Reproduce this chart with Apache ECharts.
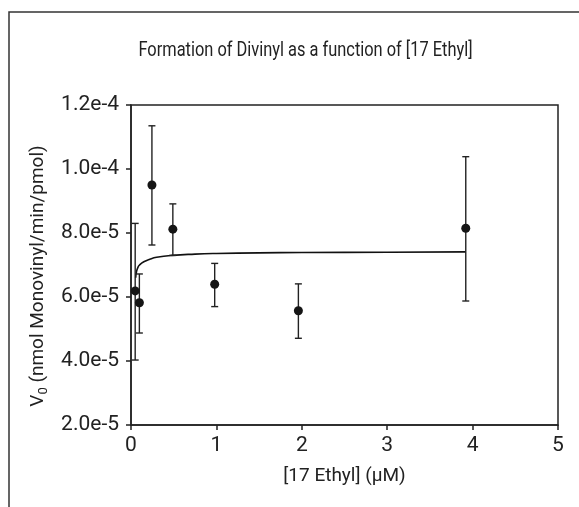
<!DOCTYPE html>
<html>
<head>
<meta charset="utf-8">
<script src="https://cdn.jsdelivr.net/npm/echarts@6/dist/echarts.min.js"></script>
<style>
html,body{margin:0;padding:0;background:#fff;}
#chart{width:579px;height:507px;}
</style>
</head>
<body>
<div id="chart"></div>
<script>
// Data
const concentration = [0.049, 0.098, 0.245, 0.49, 0.98, 1.96, 3.92];
const rate = [6.19e-5, 5.82e-5, 9.5e-5, 8.12e-5, 6.40e-5, 5.57e-5, 8.15e-5];
const rateHigh = [8.30e-5, 6.72e-5, 1.135e-4, 8.91e-5, 7.05e-5, 6.41e-5, 1.0385e-4];
const rateLow = [4.03e-5, 4.875e-5, 7.625e-5, 7.30e-5, 5.70e-5, 4.71e-5, 5.875e-5];
// Fitted curve, points
const fitX = [0.055, 0.065, 0.08, 0.1, 0.15, 0.22, 0.3, 0.48, 0.75, 1.0, 1.5, 2.0, 3.0, 3.92];
const fitY = [6.6e-5, 6.8e-5, 6.92e-5, 7.0e-5, 7.1e-5, 7.18e-5, 7.24e-5, 7.3e-5, 7.34e-5, 7.36e-5, 7.38e-5, 7.39e-5, 7.4e-5, 7.41e-5];

const titleText = 'Formation of Divinyl as a function of [17 Ethyl]';
const xName = '[17 Ethyl] (µM)';

const FONT = 'Roboto, "Liberation Sans", sans-serif';
const INK = '#222';

const pts = concentration.map((x, i) => [x, rate[i]]);
const errs = concentration.map((x, i) => [x, rateLow[i], rateHigh[i]]);
const fit = fitX.map((x, i) => [x, fitY[i]]);

const chart = echarts.init(document.getElementById('chart'), null, {renderer: 'canvas'});
chart.setOption({
  animation: false,
  backgroundColor: '#fff',
  graphic: [
    {
      type: 'rect', x: 0, y: 0, shape: {x: 9, y: 12, width: 700, height: 700},
      style: {fill: 'none', stroke: '#333', lineWidth: 1.5}, silent: true
    },
    {
      type: 'text', x: 305.5, y: 51, scaleX: 0.82, silent: true,
      style: {
        text: titleText, fill: INK, align: 'center', verticalAlign: 'middle',
        font: '20px ' + FONT
      }
    }
  ],
  grid: {left: 131, top: 105, right: 21, bottom: 82, show: true, borderColor: INK, borderWidth: 1.5, backgroundColor: 'transparent'},
  xAxis: {
    type: 'value', min: 0, max: 5, interval: 1,
    name: xName, nameLocation: 'middle', nameGap: 42,
    nameTextStyle: {fontFamily: FONT, fontSize: 19, color: INK},
    axisLine: {lineStyle: {color: INK, width: 1.5}},
    axisTick: {length: 5, lineStyle: {color: INK, width: 1.5}},
    axisLabel: {margin: 10, fontFamily: FONT, fontSize: 21, color: INK},
    splitLine: {show: false}
  },
  yAxis: {
    type: 'value', min: 2e-5, max: 1.2e-4, interval: 2e-5,
    name: '{v|V}{s|0}{v| (nmol Monovinyl/min/pmol)}', nameLocation: 'middle', nameGap: 81, nameRotate: 90,
    nameTextStyle: {
      fontFamily: FONT, fontSize: 19, color: INK, padding: [0, 22, 0, 0],
      rich: {
        v: {fontFamily: FONT, fontSize: 19, color: INK},
        s: {fontFamily: FONT, fontSize: 13, color: INK, verticalAlign: 'bottom', padding: [10, 0, 0, 0]}
      }
    },
    axisLine: {lineStyle: {color: INK, width: 1.5}},
    axisTick: {length: 5, lineStyle: {color: INK, width: 1.5}},
    axisLabel: {
      margin: 12, fontFamily: FONT, fontSize: 21, color: INK,
      formatter: v => Number(v).toExponential(1)
    },
    splitLine: {show: false}
  },
  series: [
    {
      type: 'line', data: fit, smooth: true, showSymbol: false, symbol: 'none',
      lineStyle: {color: '#111', width: 1.6}, z: 2
    },
    {
      type: 'custom', data: errs, z: 3,
      renderItem: function (params, api) {
        const x = api.value(0);
        const lo = api.coord([x, api.value(1)]);
        const hi = api.coord([x, api.value(2)]);
        const w = 3.5;
        const st = {stroke: '#222', lineWidth: 1.4};
        return {
          type: 'group',
          children: [
            {type: 'line', shape: {x1: lo[0], y1: lo[1], x2: hi[0], y2: hi[1]}, style: st},
            {type: 'line', shape: {x1: hi[0] - w, y1: hi[1], x2: hi[0] + w, y2: hi[1]}, style: st},
            {type: 'line', shape: {x1: lo[0] - w, y1: lo[1], x2: lo[0] + w, y2: lo[1]}, style: st}
          ]
        };
      }
    },
    {
      type: 'scatter', data: pts, symbol: 'circle', symbolSize: 9,
      itemStyle: {color: '#151515', opacity: 1}, z: 4
    }
  ]
});
</script>
</body>
</html>
